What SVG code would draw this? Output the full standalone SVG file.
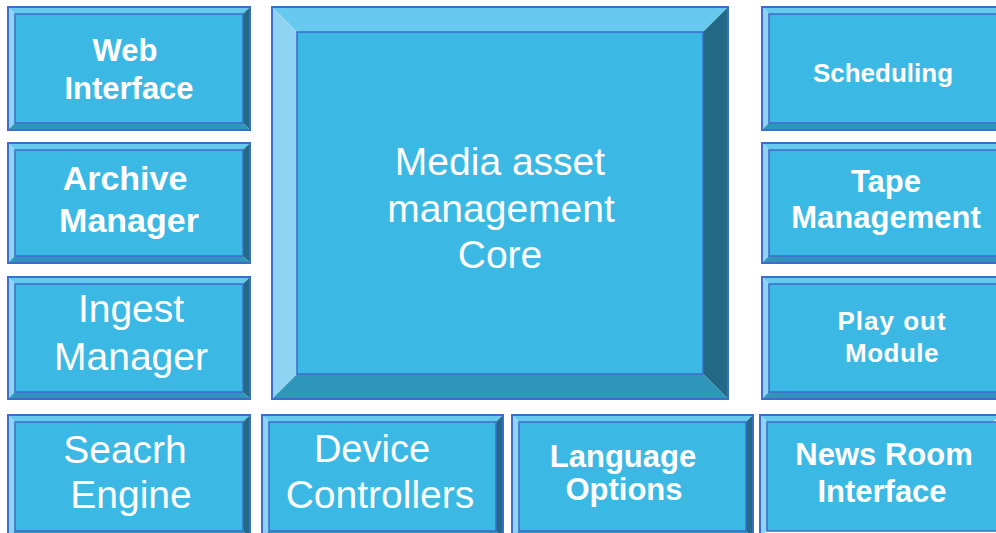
<svg xmlns="http://www.w3.org/2000/svg" width="996" height="533" viewBox="0 0 996 533">
<style>
.top{fill:#66c9ed}
.lft{fill:#8ed3f2}
.rgt{fill:#226a86}
.bot{fill:#2e96b8}
.face{fill:#3bb9e4;stroke:#3c6ccc;stroke-width:1.5}
.edge{fill:none;stroke:#3c6ccc;stroke-width:2}
.b{font-family:"Liberation Sans",Arial,sans-serif;font-weight:bold;fill:#ffffff;text-anchor:middle}
.r{font-family:"Liberation Sans",Arial,sans-serif;fill:#ffffff;text-anchor:middle}
</style>
<rect width="996" height="533" fill="#ffffff"/>
<g id="core">
<polygon class="top" points="272,7 728,7 703,32 297,32"/>
<polygon class="lft" points="272,7 297,32 297,374 272,399"/>
<polygon class="rgt" points="728,7 728,399 703,374 703,32"/>
<polygon class="bot" points="272,399 297,374 703,374 728,399"/>
<rect class="face" x="297" y="32" width="406" height="342"/>
<rect class="edge" x="272" y="7" width="456" height="392"/>
<text class="r" font-size="39" x="500" y="175">Media asset</text>
<text class="r" font-size="39" x="501" y="222">management</text>
<text class="r" font-size="39" x="500" y="268">Core</text>
</g>
<g id="web">
<polygon class="top" points="8,7 250,7 243,14 15,14"/>
<polygon class="lft" points="8,7 15,14 15,123 8,130"/>
<polygon class="rgt" points="250,7 250,130 243,123 243,14"/>
<polygon class="bot" points="8,130 15,123 243,123 250,130"/>
<rect class="face" x="15" y="14" width="228" height="109"/>
<rect class="edge" x="8" y="7" width="242" height="123"/>
<text class="b" font-size="31" x="125" y="61">Web</text>
<text class="b" font-size="31" x="129" y="99">Interface</text>
</g>
<g id="archive">
<polygon class="top" points="8,143 250,143 243,150 15,150"/>
<polygon class="lft" points="8,143 15,150 15,256 8,263"/>
<polygon class="rgt" points="250,143 250,263 243,256 243,150"/>
<polygon class="bot" points="8,263 15,256 243,256 250,263"/>
<rect class="face" x="15" y="150" width="228" height="106"/>
<rect class="edge" x="8" y="143" width="242" height="120"/>
<text class="b" font-size="34" x="125" y="190">Archive</text>
<text class="b" font-size="34" x="129" y="232">Manager</text>
</g>
<g id="ingest">
<polygon class="top" points="8,277 250,277 243,284 15,284"/>
<polygon class="lft" points="8,277 15,284 15,392 8,399"/>
<polygon class="rgt" points="250,277 250,399 243,392 243,284"/>
<polygon class="bot" points="8,399 15,392 243,392 250,399"/>
<rect class="face" x="15" y="284" width="228" height="108"/>
<rect class="edge" x="8" y="277" width="242" height="122"/>
<text class="r" font-size="39" x="131" y="322">Ingest</text>
<text class="r" font-size="39" x="131" y="370">Manager</text>
</g>
<g id="search">
<polygon class="top" points="8,415 250,415 243,422 15,422"/>
<polygon class="lft" points="8,415 15,422 15,531 8,538"/>
<polygon class="rgt" points="250,415 250,538 243,531 243,422"/>
<polygon class="bot" points="8,538 15,531 243,531 250,538"/>
<rect class="face" x="15" y="422" width="228" height="109"/>
<rect class="edge" x="8" y="415" width="242" height="123"/>
<text class="r" font-size="39" x="125" y="463">Seacrh</text>
<text class="r" font-size="39" x="131" y="508">Engine</text>
</g>
<g id="device">
<polygon class="top" points="262,415 503,415 496,422 269,422"/>
<polygon class="lft" points="262,415 269,422 269,531 262,538"/>
<polygon class="rgt" points="503,415 503,538 496,531 496,422"/>
<polygon class="bot" points="262,538 269,531 496,531 503,538"/>
<rect class="face" x="269" y="422" width="227" height="109"/>
<rect class="edge" x="262" y="415" width="241" height="123"/>
<text class="r" font-size="38" x="372" y="462">Device</text>
<text class="r" font-size="39" x="380" y="508">Controllers</text>
</g>
<g id="language">
<polygon class="top" points="512,415 753,415 746,422 519,422"/>
<polygon class="lft" points="512,415 519,422 519,531 512,538"/>
<polygon class="rgt" points="753,415 753,538 746,531 746,422"/>
<polygon class="bot" points="512,538 519,531 746,531 753,538"/>
<rect class="face" x="519" y="422" width="227" height="109"/>
<rect class="edge" x="512" y="415" width="241" height="123"/>
<text class="b" font-size="31" x="623" y="467">Language</text>
<text class="b" font-size="31" x="624" y="500">Options</text>
</g>
<g id="newsroom">
<polygon class="top" points="760,415 1000,415 993,422 767,422"/>
<polygon class="lft" points="760,415 767,422 767,531 760,538"/>
<rect class="face" x="767" y="422" width="240" height="109"/>
<rect class="edge" x="760" y="415" width="250" height="123"/>
<text class="b" font-size="31" x="884" y="465">News Room</text>
<text class="b" font-size="31" x="882" y="502">Interface</text>
</g>
<g id="scheduling">
<polygon class="top" points="762,7 1010,7 1003,14 769,14"/>
<polygon class="lft" points="762,7 769,14 769,123 762,130"/>
<polygon class="bot" points="762,130 769,123 1003,123 1010,130"/>
<rect class="face" x="769" y="14" width="240" height="109"/>
<rect class="edge" x="762" y="7" width="250" height="123"/>
<text class="b" font-size="26" x="883" y="82">Scheduling</text>
</g>
<g id="tape">
<polygon class="top" points="762,143 1010,143 1003,150 769,150"/>
<polygon class="lft" points="762,143 769,150 769,256 762,263"/>
<polygon class="bot" points="762,263 769,256 1003,256 1010,263"/>
<rect class="face" x="769" y="150" width="240" height="106"/>
<rect class="edge" x="762" y="143" width="250" height="120"/>
<text class="b" font-size="31" x="886" y="192">Tape</text>
<text class="b" font-size="31" x="886" y="228">Management</text>
</g>
<g id="playout">
<polygon class="top" points="762,277 1010,277 1003,284 769,284"/>
<polygon class="lft" points="762,277 769,284 769,392 762,399"/>
<polygon class="bot" points="762,399 769,392 1003,392 1010,399"/>
<rect class="face" x="769" y="284" width="240" height="108"/>
<rect class="edge" x="762" y="277" width="250" height="122"/>
<text class="b" font-size="26" x="892" y="330" letter-spacing="1">Play out</text>
<text class="b" font-size="26" x="892" y="362" letter-spacing="0.5">Module</text>
</g>
<g id="connectors"></g>
</svg>
